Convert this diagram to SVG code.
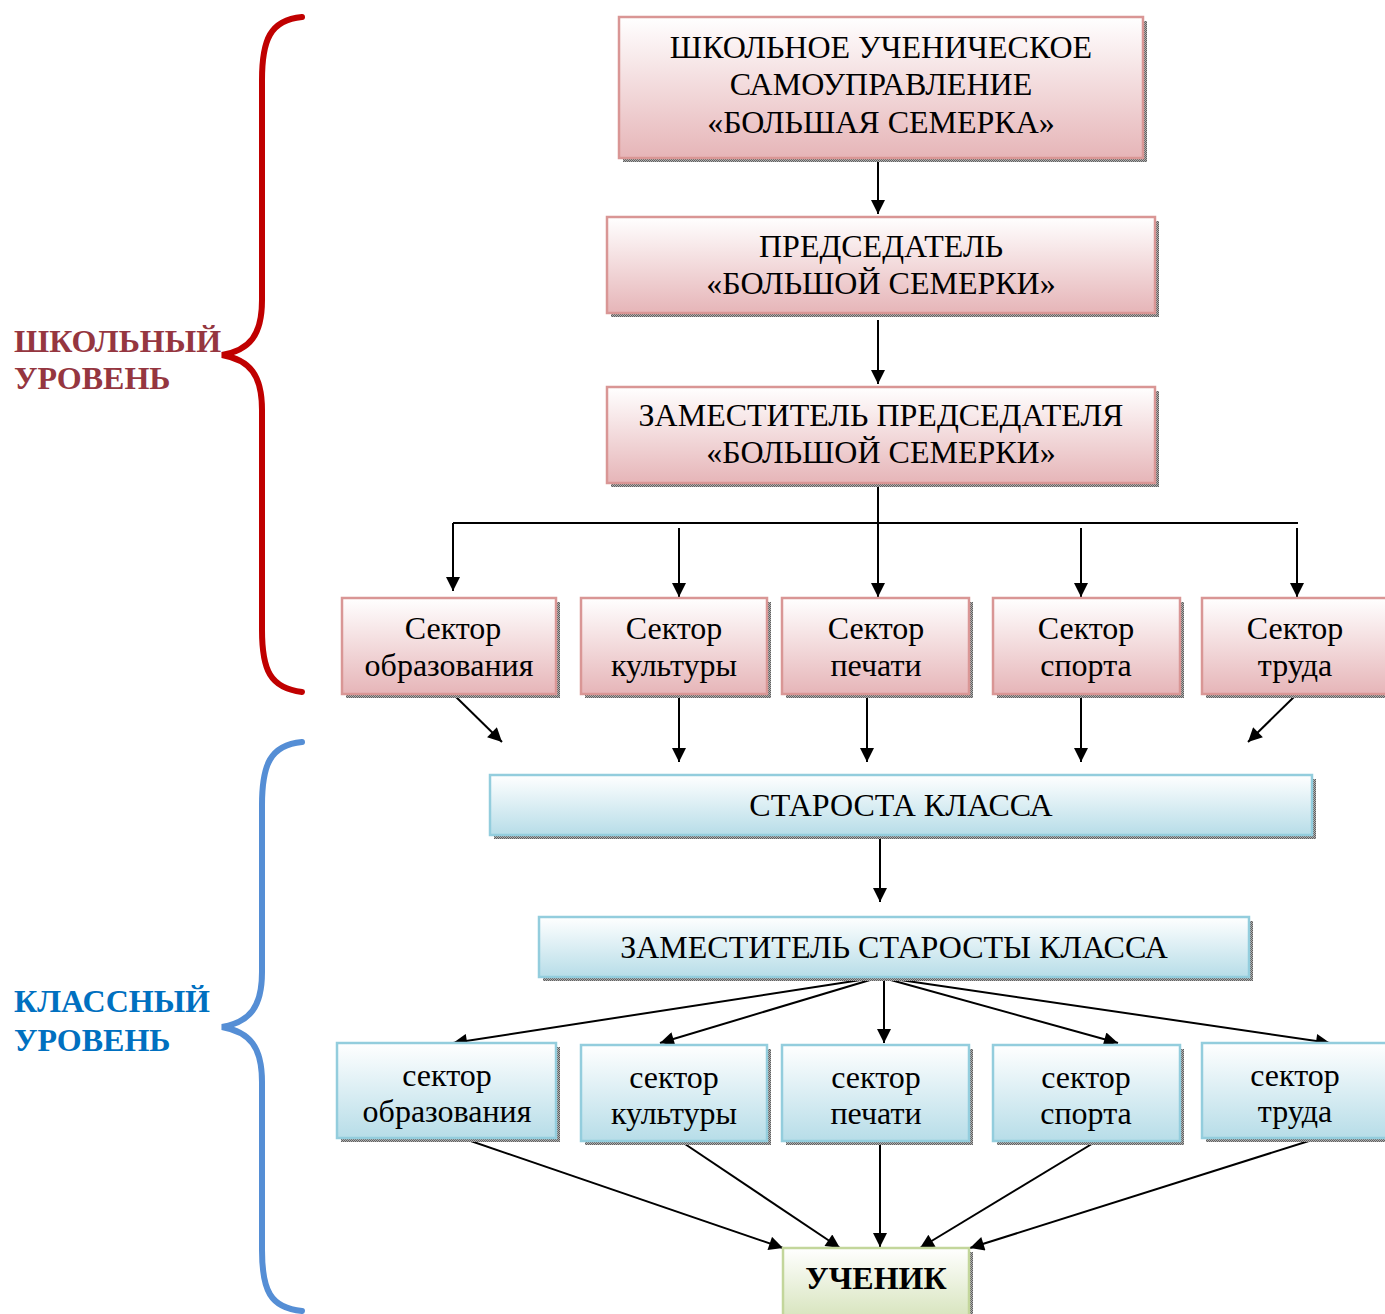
<svg xmlns="http://www.w3.org/2000/svg" width="1385" height="1314" viewBox="0 0 1385 1314">
<defs>
<linearGradient id="gp" x1="0" y1="0" x2="0" y2="1"><stop offset="0" stop-color="#ffffff"/><stop offset="1" stop-color="#e6b5b8"/></linearGradient>
<linearGradient id="gb" x1="0" y1="0" x2="0" y2="1"><stop offset="0" stop-color="#ffffff"/><stop offset="1" stop-color="#b7dde8"/></linearGradient>
<linearGradient id="gg" x1="0" y1="0" x2="0" y2="1"><stop offset="0" stop-color="#ffffff"/><stop offset="1" stop-color="#d7e4bd"/></linearGradient>
<pattern id="sh" width="2" height="2" patternUnits="userSpaceOnUse"><rect width="2" height="2" fill="#b0b0b0"/><rect width="1" height="1" fill="#606060"/><rect x="1" y="1" width="1" height="1" fill="#606060"/></pattern>
<marker id="ah" viewBox="0 0 10 10" refX="10" refY="5" markerWidth="16" markerHeight="14" markerUnits="userSpaceOnUse" orient="auto"><path d="M0,0 L10,5 L0,10 Z" fill="#000"/></marker>
</defs>
<style>
.shadow{fill:url(#sh)}
.p{fill:url(#gp);stroke:#d99695;stroke-width:2.5}
.b{fill:url(#gb);stroke:#93cddd;stroke-width:2.5}
.g{fill:url(#gg);stroke:#c3d69b;stroke-width:2.5}
.t{font-family:"Liberation Serif","Times New Roman",serif;font-size:32px;fill:#000;text-anchor:middle}
.tb{font-family:"Liberation Serif","Times New Roman",serif;font-size:32px;font-weight:bold;fill:#000;text-anchor:middle}
.c{stroke:#000;stroke-width:2;fill:none}
.ca{stroke:#000;stroke-width:2;fill:none;marker-end:url(#ah)}
.lvl{font-family:"Liberation Serif","Times New Roman",serif;font-size:32px;font-weight:bold}
</style>

<g id="brackets">
<path d="M302,17 C270,20 262,40 262,80 L262,300 C262,335 250,350 222,355 C250,360 262,375 262,410 L262,630 C262,670 270,688 302,692" fill="none" stroke="#c00000" stroke-width="6" stroke-linecap="round"/>
<path d="M302,742 C270,745 262,765 262,805 L262,972 C262,1007 250,1022 222,1027 C250,1032 262,1047 262,1082 L262,1250 C262,1290 270,1308 302,1311" fill="none" stroke="#558ed5" stroke-width="6" stroke-linecap="round"/>
</g>
<g id="labels">
<text class="lvl" x="14" y="352" fill="#953640">ШКОЛЬНЫЙ</text>
<text class="lvl" x="14" y="389" fill="#953640">УРОВЕНЬ</text>
<text class="lvl" x="14" y="1012" fill="#0070c0">КЛАССНЫЙ</text>
<text class="lvl" x="14" y="1051" fill="#0070c0">УРОВЕНЬ</text>
</g>

<g id="connectors">
<line class="ca" x1="878" y1="160" x2="878" y2="214"/>
<line class="ca" x1="878" y1="320" x2="878" y2="384"/>
<line class="c" x1="878" y1="485" x2="878" y2="523"/>
<line class="c" x1="453" y1="523" x2="1298" y2="523"/>
<line class="ca" x1="453" y1="523" x2="453" y2="591"/>
<line class="ca" x1="679" y1="528" x2="679" y2="597"/>
<line class="ca" x1="878" y1="523" x2="878" y2="597"/>
<line class="ca" x1="1081" y1="528" x2="1081" y2="597"/>
<line class="ca" x1="1297" y1="528" x2="1297" y2="597"/>
<line class="ca" x1="453" y1="694" x2="502" y2="742"/>
<line class="ca" x1="679" y1="694" x2="679" y2="762"/>
<line class="ca" x1="867" y1="694" x2="867" y2="762"/>
<line class="ca" x1="1081" y1="694" x2="1081" y2="762"/>
<line class="ca" x1="1297" y1="694" x2="1248" y2="742"/>
<line class="ca" x1="880" y1="835" x2="880" y2="902"/>
<line class="ca" x1="880" y1="977" x2="453" y2="1043"/>
<line class="ca" x1="880" y1="977" x2="660" y2="1043"/>
<line class="ca" x1="884" y1="977" x2="884" y2="1043"/>
<line class="ca" x1="880" y1="977" x2="1118" y2="1043"/>
<line class="ca" x1="880" y1="977" x2="1330" y2="1043"/>
<line class="ca" x1="462" y1="1138" x2="783" y2="1248"/>
<line class="ca" x1="679" y1="1140" x2="840" y2="1248"/>
<line class="ca" x1="880" y1="1141" x2="880" y2="1247"/>
<line class="ca" x1="1100" y1="1139" x2="920" y2="1248"/>
<line class="ca" x1="1312" y1="1140" x2="970" y2="1248"/>
</g>

<g id="n-top">
<rect class="shadow" x="623" y="21" width="524" height="141"/>
<rect class="p" x="619" y="17" width="524" height="141"/>
<text class="t" x="881" y="58">ШКОЛЬНОЕ УЧЕНИЧЕСКОЕ</text>
<text class="t" x="881" y="95">САМОУПРАВЛЕНИЕ</text>
<text class="t" x="881" y="133">«БОЛЬШАЯ СЕМЕРКА»</text>
</g>
<g id="n-chair">
<rect class="shadow" x="611" y="221" width="548" height="96"/>
<rect class="p" x="607" y="217" width="548" height="96"/>
<text class="t" x="881" y="257">ПРЕДСЕДАТЕЛЬ</text>
<text class="t" x="881" y="294">«БОЛЬШОЙ СЕМЕРКИ»</text>
</g>
<g id="n-deputy">
<rect class="shadow" x="611" y="391" width="548" height="96"/>
<rect class="p" x="607" y="387" width="548" height="96"/>
<text class="t" x="881" y="426">ЗАМЕСТИТЕЛЬ ПРЕДСЕДАТЕЛЯ</text>
<text class="t" x="881" y="463">«БОЛЬШОЙ СЕМЕРКИ»</text>
</g>

<g id="s1">
<rect class="shadow" x="346" y="602" width="214" height="96"/>
<rect class="p" x="342" y="598" width="214" height="96"/>
<text class="t" x="453" y="639">Сектор</text>
<text class="t" x="449" y="676">образования</text>
</g>
<g id="s2">
<rect class="shadow" x="585" y="602" width="186" height="96"/>
<rect class="p" x="581" y="598" width="186" height="96"/>
<text class="t" x="674" y="639">Сектор</text>
<text class="t" x="674" y="676">культуры</text>
</g>
<g id="s3">
<rect class="shadow" x="786" y="602" width="187" height="96"/>
<rect class="p" x="782" y="598" width="187" height="96"/>
<text class="t" x="876" y="639">Сектор</text>
<text class="t" x="876" y="676">печати</text>
</g>
<g id="s4">
<rect class="shadow" x="997" y="602" width="187" height="96"/>
<rect class="p" x="993" y="598" width="187" height="96"/>
<text class="t" x="1086" y="639">Сектор</text>
<text class="t" x="1086" y="676">спорта</text>
</g>
<g id="s5">
<rect class="shadow" x="1206" y="602" width="185" height="96"/>
<rect class="p" x="1202" y="598" width="185" height="96"/>
<text class="t" x="1295" y="639">Сектор</text>
<text class="t" x="1295" y="676">труда</text>
</g>

<g id="n-starosta">
<rect class="shadow" x="494" y="779" width="822" height="60"/>
<rect class="b" x="490" y="775" width="822" height="60"/>
<text class="t" x="901" y="816">СТАРОСТА КЛАССА</text>
</g>
<g id="n-zam-starosta">
<rect class="shadow" x="543" y="921" width="710" height="60"/>
<rect class="b" x="539" y="917" width="710" height="60"/>
<text class="t" x="894" y="958">ЗАМЕСТИТЕЛЬ СТАРОСТЫ КЛАССА</text>
</g>

<g id="c1">
<rect class="shadow" x="341" y="1047" width="219" height="95"/>
<rect class="b" x="337" y="1043" width="219" height="95"/>
<text class="t" x="447" y="1086">сектор</text>
<text class="t" x="447" y="1122">образования</text>
</g>
<g id="c2">
<rect class="shadow" x="585" y="1049" width="186" height="96"/>
<rect class="b" x="581" y="1045" width="186" height="96"/>
<text class="t" x="674" y="1088">сектор</text>
<text class="t" x="674" y="1124">культуры</text>
</g>
<g id="c3">
<rect class="shadow" x="786" y="1049" width="187" height="96"/>
<rect class="b" x="782" y="1045" width="187" height="96"/>
<text class="t" x="876" y="1088">сектор</text>
<text class="t" x="876" y="1124">печати</text>
</g>
<g id="c4">
<rect class="shadow" x="997" y="1049" width="187" height="96"/>
<rect class="b" x="993" y="1045" width="187" height="96"/>
<text class="t" x="1086" y="1088">сектор</text>
<text class="t" x="1086" y="1124">спорта</text>
</g>
<g id="c5">
<rect class="shadow" x="1206" y="1047" width="185" height="95"/>
<rect class="b" x="1202" y="1043" width="185" height="95"/>
<text class="t" x="1295" y="1086">сектор</text>
<text class="t" x="1295" y="1122">труда</text>
</g>

<g id="n-student">
<rect class="shadow" x="787" y="1252" width="186" height="70"/>
<rect class="g" x="783" y="1248" width="186" height="70"/>
<text class="tb" x="876" y="1289">УЧЕНИК</text>
</g>
</svg>
